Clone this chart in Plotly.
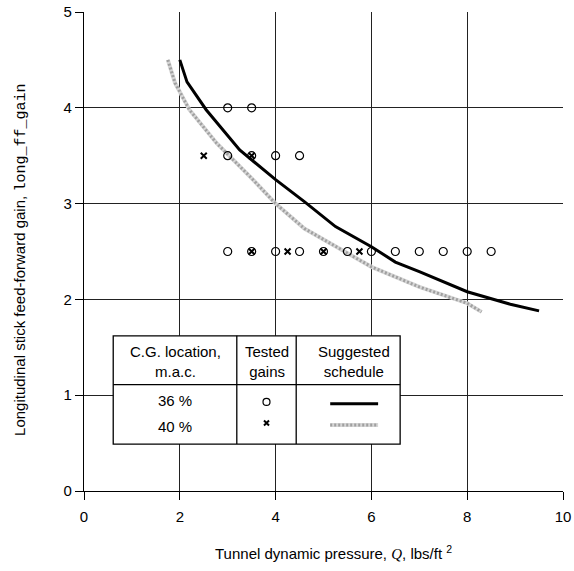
import plotly.graph_objects as go

# tested gains, 36 % m.a.c.
q_36 = [3, 3.5, 3, 3.5, 4, 4.5, 3, 3.5, 4, 4.5, 5, 5.5, 6, 6.5, 7, 7.5, 8, 8.5]
gain_36 = [4, 4, 3.5, 3.5, 3.5, 3.5, 2.5, 2.5, 2.5, 2.5, 2.5, 2.5, 2.5, 2.5, 2.5, 2.5, 2.5, 2.5]

# tested gains, 40 % m.a.c.
q_40 = [2.5, 3.5, 3.5, 4.25, 5, 5.75]
gain_40 = [3.5, 3.5, 2.5, 2.5, 2.5, 2.5]

# suggested schedules
sched_q_36 = [2.0, 2.15, 2.55, 3.25, 4.0, 4.6, 5.25, 6.0, 6.5, 7.0, 8.0, 8.9, 9.5]
sched_gain_36 = [4.5, 4.27, 3.98, 3.56, 3.25, 3.02, 2.76, 2.55, 2.39, 2.29, 2.08, 1.95, 1.88]
sched_q_40 = [1.75, 1.9, 2.2, 2.77, 3.47, 4.0, 4.6, 5.5, 6.0, 7.0, 8.0, 8.3]
sched_gain_40 = [4.5, 4.26, 3.98, 3.63, 3.28, 3.0, 2.74, 2.48, 2.34, 2.13, 1.96, 1.87]

FONT = "Liberation Sans, Arial, sans-serif"
GRID = "#222222"

fig = go.Figure()

# grey schedule: light base + darker dotted overlay
fig.add_trace(go.Scatter(x=sched_q_40, y=sched_gain_40, mode="lines",
                         line=dict(color="#d6d6d6", width=4), showlegend=False))
fig.add_trace(go.Scatter(x=sched_q_40, y=sched_gain_40, mode="lines",
                         line=dict(color="#a0a0a0", width=3, dash="2px,2px"), showlegend=False))
fig.add_trace(go.Scatter(x=sched_q_36, y=sched_gain_36, mode="lines",
                         line=dict(color="black", width=3), showlegend=False))
fig.add_trace(go.Scatter(x=q_36, y=gain_36, mode="markers",
                         marker=dict(symbol="circle-open", size=8, color="black", line=dict(width=1.2)),
                         showlegend=False))
fig.add_trace(go.Scatter(x=q_40, y=gain_40, mode="markers",
                         marker=dict(symbol="x-thin", size=6, color="black", line=dict(width=2, color="black")),
                         showlegend=False))

# legend table drawn in data coordinates
x0, x1, x2, x3 = 0.61, 3.19, 4.43, 6.6
y_top, y_mid, y_bot = 1.62, 1.11, 0.49
fig.add_shape(type="rect", x0=x0, x1=x3, y0=y_bot, y1=y_top, layer="between",
              fillcolor="white", line=dict(color="black", width=1.3))
for xs in (x1, x2):
    fig.add_shape(type="line", x0=xs, x1=xs, y0=y_bot, y1=y_top, layer="between",
                  line=dict(color="black", width=1.3))
fig.add_shape(type="line", x0=x0, x1=x3, y0=y_mid, y1=y_mid, layer="between",
              line=dict(color="black", width=1.3))

fig.add_trace(go.Scatter(x=[3.81], y=[0.93], mode="markers",
                         marker=dict(symbol="circle-open", size=7, color="black", line=dict(width=1.2)),
                         showlegend=False))
fig.add_trace(go.Scatter(x=[3.81], y=[0.71], mode="markers",
                         marker=dict(symbol="x-thin", size=5, color="black", line=dict(width=2, color="black")),
                         showlegend=False))
fig.add_trace(go.Scatter(x=[5.14, 6.14], y=[0.91, 0.91], mode="lines",
                         line=dict(color="black", width=3), showlegend=False))
fig.add_trace(go.Scatter(x=[5.14, 6.14], y=[0.69, 0.69], mode="lines",
                         line=dict(color="#d6d6d6", width=4), showlegend=False))
fig.add_trace(go.Scatter(x=[5.14, 6.14], y=[0.69, 0.69], mode="lines",
                         line=dict(color="#a0a0a0", width=3, dash="2px,2px"), showlegend=False))

labels = [
    (1.9, 1.35, "C.G. location,<br>m.a.c."),
    (3.81, 1.35, "Tested<br>gains"),
    (5.64, 1.35, "Suggested<br>schedule"),
    (1.9, 0.94, "36 %"),
    (1.9, 0.67, "40 %"),
]
for lx, ly, txt in labels:
    fig.add_annotation(x=lx, y=ly, text=txt, showarrow=False,
                       font=dict(family=FONT, size=15, color="black"))

# axis titles as annotations so they do not move the plot area
fig.add_annotation(
    xref="paper", yref="paper", x=0.52, y=-0.129, xanchor="center", yanchor="middle", showarrow=False,
    text="Tunnel dynamic pressure, <span style=\"font-family:Liberation Serif,serif\"><i>Q</i></span>, lbs/ft <sup>2</sup>",
    font=dict(family=FONT, size=15, color="black"),
)
fig.add_annotation(
    xref="paper", yref="paper", x=-0.134, y=0.482, xanchor="center", yanchor="middle",
    showarrow=False, textangle=-90,
    text="Longitudinal stick feed-forward gain, <span style=\"font-family:Liberation Mono,monospace\">long_ff_gain</span>",
    font=dict(family=FONT, size=15, color="black"),
)

fig.update_layout(
    width=574,
    height=571,
    margin=dict(l=84, r=11, t=12, b=80),
    paper_bgcolor="white",
    plot_bgcolor="white",
    font=dict(family=FONT, size=15, color="black"),
    showlegend=False,
)
fig.update_xaxes(
    range=[0, 10], tickvals=[0, 2, 4, 6, 8, 10], showgrid=True, gridcolor=GRID, gridwidth=1,
    zeroline=False, showline=True, linecolor="black", linewidth=1.3, automargin=False,
    ticks="outside", ticklen=8, tickcolor="black", tickwidth=1.3, ticklabelstandoff=4,
)
fig.update_yaxes(
    range=[0, 5], tickvals=[0, 1, 2, 3, 4, 5], showgrid=True, gridcolor=GRID, gridwidth=1,
    zeroline=False, showline=True, linecolor="black", linewidth=1.3, automargin=False,
    ticks="outside", ticklen=8, tickcolor="black", tickwidth=1.3,
)

# default body margin would shift the figure by 8 px
fig.write_html("out.html", config={"displayModeBar": False},
               post_script="document.body.style.margin = '0';")
